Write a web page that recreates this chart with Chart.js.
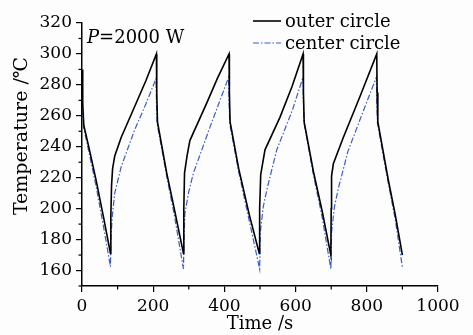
<!DOCTYPE html>
<html>
<head>
<meta charset="utf-8">
<script src="https://cdn.jsdelivr.net/npm/chart.js@4.4.1/dist/chart.umd.min.js"></script>
<style>
  html, body { margin: 0; padding: 0; background: #fdfdfd; }
  #wrap { width: 473px; height: 335px; }
</style>
</head>
<body>
<div id="wrap"><canvas id="chart"></canvas></div>
<script>
// Axis ticks
const xTicks = [0, 200, 400, 600, 800, 1000];
const xMinor = [100, 300, 500, 700, 900];
const yTicks = [160, 180, 200, 220, 240, 260, 280, 300, 320];
const yMinor = [150, 170, 190, 210, 230, 250, 270, 290, 310];

// outer circle
const outerTime = [0, 2, 5, 20, 40, 60, 80,
  81, 83, 86, 92, 110, 148, 180, 209,
  210, 212, 238, 260, 285,
  286, 288, 295, 303, 350, 380, 413,
  414, 416, 440, 470, 498,
  499, 502, 514, 556, 590, 621,
  622, 624, 650, 675, 699,
  700, 701, 706, 734, 780, 828,
  829, 831, 860, 880, 900];
const outerTemp = [290, 268, 254, 239, 218, 195, 171,
  195, 215, 226, 234, 246, 266, 283, 300,
  275, 256, 223, 199, 171,
  200, 223, 234, 244, 268, 284, 300,
  275, 256, 226, 196, 171,
  200, 222, 238, 259, 279, 300,
  275, 256, 224, 198, 170,
  200, 221, 229, 246, 272, 300,
  275, 256, 219, 196, 170];

// center circle
const centerTime = [0, 2, 5, 20, 40, 60, 80,
  81, 85, 92, 110, 148, 180, 208,
  209, 211, 238, 260, 285,
  287, 289, 300, 313, 360, 412,
  413, 415, 440, 470, 499,
  501, 509, 520, 547, 590, 621,
  622, 624, 650, 675, 699,
  701, 709, 720, 747, 790, 827,
  828, 830, 860, 880, 900];
const centerTemp = [285, 262, 252, 236, 214, 189, 162.5,
  180, 195, 210, 227, 251, 268, 284,
  270, 255, 221, 195, 161,
  185, 197, 211, 223, 253, 285,
  270, 255, 224, 192, 161,
  185, 201, 213, 238, 263, 285,
  270, 255, 222, 194, 161,
  185, 201, 213, 237, 263, 285,
  270, 255, 217, 193, 162];

const seriesNames = ['outer circle', 'center circle'];
const powerLabel = ['P', '=2000 W'];
const yTitle = 'Temperature /℃';

const FONT = 'DejaVu Serif';
const toPoints = (ts, vs) => ts.map((t, i) => ({ x: t, y: vs[i] }));

// minor ticks, y title, in-plot legend and the power note
const extras = {
  id: 'extras',
  afterDraw(chart) {
    const { ctx, scales: { x, y } } = chart;
    ctx.save();
    ctx.strokeStyle = '#000';
    ctx.lineWidth = 1.2;
    xMinor.forEach(v => {
      const px = x.getPixelForValue(v);
      ctx.beginPath(); ctx.moveTo(px, x.top); ctx.lineTo(px, x.top + 3.5); ctx.stroke();
    });
    yMinor.forEach(v => {
      const py = y.getPixelForValue(v);
      ctx.beginPath(); ctx.moveTo(y.right, py); ctx.lineTo(y.right - 3.5, py); ctx.stroke();
    });

    ctx.fillStyle = '#000';

    // y axis title (sits a bit above the plot centre in the original)
    ctx.save();
    ctx.translate(22, 136);
    ctx.rotate(-Math.PI / 2);
    ctx.font = '19px "' + FONT + '"';
    ctx.textAlign = 'center';
    ctx.textBaseline = 'middle';
    ctx.fillText(yTitle, 0, 0);
    ctx.restore();

    // legend
    ctx.textBaseline = 'alphabetic';
    ctx.font = '18px "' + FONT + '"';
    chart.data.datasets.forEach((ds, i) => {
      const ly = 21 + i * 22;
      ctx.strokeStyle = ds.borderColor;
      ctx.lineWidth = ds.borderWidth;
      ctx.setLineDash(ds.borderDash || []);
      ctx.beginPath(); ctx.moveTo(253, ly); ctx.lineTo(281, ly); ctx.stroke();
      ctx.setLineDash([]);
      ctx.fillText(ds.label, 285, ly + 6);
    });

    // P=2000 W
    ctx.font = 'italic 18px "' + FONT + '"';
    ctx.fillText(powerLabel[0], 87, 43);
    const w = ctx.measureText(powerLabel[0]).width;
    ctx.font = '18px "' + FONT + '"';
    ctx.fillText(powerLabel[1], 87 + w, 43);
    ctx.restore();
  }
};

new Chart(document.getElementById('chart'), {
  type: 'line',
  data: {
    datasets: [{
      label: seriesNames[0],
      data: toPoints(outerTime, outerTemp),
      borderColor: '#000000',
      borderWidth: 1.6,
      pointRadius: 0,
      tension: 0
    }, {
      label: seriesNames[1],
      data: toPoints(centerTime, centerTemp),
      borderColor: '#3a5cc4',
      borderWidth: 1.2,
      borderDash: [6, 2, 1.5, 2],
      pointRadius: 0,
      tension: 0
    }]
  },
  plugins: [extras],
  options: {
    responsive: true,
    maintainAspectRatio: false,
    animation: false,
    layout: { padding: { top: 23, right: 35, left: 8, bottom: 0 } },
    plugins: { legend: { display: false }, tooltip: { enabled: false } },
    scales: {
      x: {
        type: 'linear', min: 0, max: 1000,
        afterBuildTicks: a => { a.ticks = xTicks.map(v => ({ value: v })); },
        afterFit: s => { s.height = 49; },
        ticks: { font: { family: FONT, size: 17 }, color: '#000', padding: 4, maxRotation: 0, autoSkip: false, callback: v => String(v) },
        grid: { drawOnChartArea: false, tickLength: 6, color: '#000', lineWidth: 1.2 },
        border: { color: '#000', width: 1.5 },
        title: { display: true, text: 'Time /s', color: '#000', font: { family: FONT, size: 18 }, padding: { top: 0, bottom: 0 } }
      },
      y: {
        min: 150, max: 320,
        afterBuildTicks: a => { a.ticks = yTicks.map(v => ({ value: v })); },
        afterFit: s => { s.width = 74; },
        ticks: { font: { family: FONT, size: 17 }, color: '#000', padding: 4, autoSkip: false },
        grid: { drawOnChartArea: false, tickLength: 6, color: '#000', lineWidth: 1.2 },
        border: { color: '#000', width: 1.5 },
        title: { display: false }
      }
    }
  }
});
</script>
</body>
</html>
